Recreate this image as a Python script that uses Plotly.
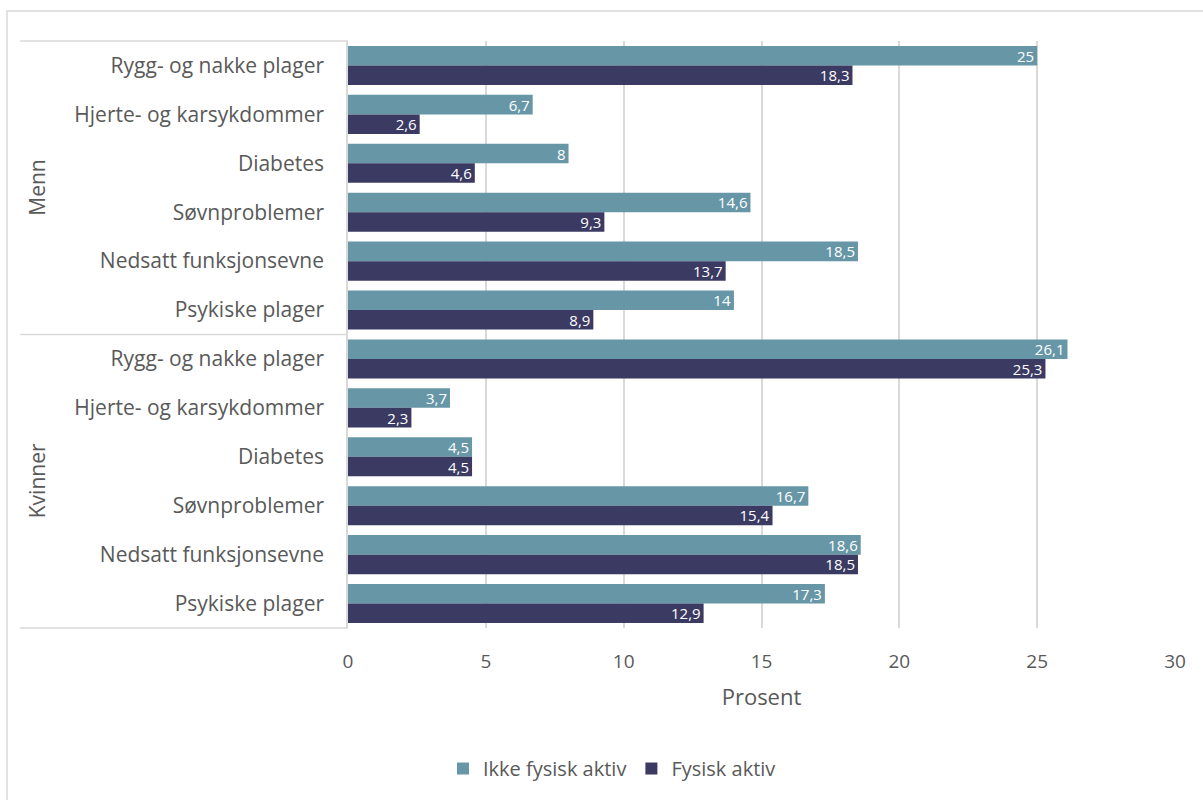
import plotly.graph_objects as go

groups = ["Menn", "Kvinner"]
conditions = ["Rygg- og nakke plager", "Hjerte- og karsykdommer", "Diabetes",
              "Søvnproblemer", "Nedsatt funksjonsevne", "Psykiske plager"]
ikke_menn = [25, 6.7, 8, 14.6, 18.5, 14]
fys_menn = [18.3, 2.6, 4.6, 9.3, 13.7, 8.9]
ikke_kvinner = [26.1, 3.7, 4.5, 16.7, 18.6, 17.3]
fys_kvinner = [25.3, 2.3, 4.5, 15.4, 18.5, 12.9]
x_ticks = [0, 5, 10, 15, 20, 25, 30]

series_names = ["Ikke fysisk aktiv", "Fysisk aktiv"]
colors = ["#6797A7", "#3B3A62"]

labels = conditions + conditions
pos = list(range(len(labels)))
ikke = ikke_menn + ikke_kvinner
fys = fys_menn + fys_kvinner

def fmt(v):
    return f"{v:g}".replace(".", ",")

FONT = "Open Sans"
GRAY = "#595959"
LINE = "#D9D9D9"

fig = go.Figure()
for name, vals, col in zip(series_names, [ikke, fys], colors):
    fig.add_trace(go.Bar(
        name=name, y=pos, x=vals, orientation="h",
        marker=dict(color=col, line=dict(width=0)),
        text=[fmt(v) for v in vals], textposition="inside",
        insidetextanchor="end", textangle=0, constraintext="none",
        textfont=dict(color="white", size=15, family=FONT),
        cliponaxis=False,
    ))

W, H = 1203, 800
L = 348
T = 41
plot_right = 1175
plot_bottom = 630
R = W - plot_right
B = H - plot_bottom
pw, ph = plot_right - L, plot_bottom - T

def px(x):
    return (x - L) / pw

def py(y):
    return (plot_bottom - y) / ph

shapes = []
for yv in [1, 0.5, 0]:
    shapes.append(dict(type="line", xref="paper", yref="paper",
                       x0=px(20), x1=0, y0=yv, y1=yv,
                       line=dict(color=LINE, width=1.5)))
shapes.append(dict(type="rect", xref="paper", yref="paper",
                   x0=px(7), x1=px(1225), y0=py(11), y1=py(825),
                   line=dict(color=LINE, width=1.5), layer="below"))

annotations = []
for g, yv in zip(groups, [0.75, 0.25]):
    annotations.append(dict(text=g, xref="paper", yref="paper",
                            x=px(37), y=yv, textangle=-90, showarrow=False,
                            font=dict(size=21, color=GRAY, family=FONT),
                            xanchor="center", yanchor="middle"))

fig.update_layout(
    width=W, height=H,
    margin=dict(l=L, r=R, t=T, b=B),
    paper_bgcolor="white", plot_bgcolor="white",
    barmode="group", bargap=0.2, bargroupgap=0,
    font=dict(family=FONT, color=GRAY),
    shapes=shapes, annotations=annotations,
    legend=dict(orientation="h", x=px(612), xanchor="center",
                y=py(771), yanchor="middle",
                font=dict(size=20, color=GRAY, family=FONT),
                itemwidth=30, traceorder="normal"),
    xaxis=dict(range=[0, 30], tickvals=x_ticks, ticktext=[str(t) for t in x_ticks],
               showgrid=True, gridcolor=LINE, gridwidth=1.5, zeroline=False,
               showline=False, ticks="", ticklabelstandoff=20,
               tickfont=dict(size=19, color=GRAY, family=FONT),
               title=dict(text="Prosent", standoff=16,
                          font=dict(size=22, color=GRAY, family=FONT))),
    yaxis=dict(tickvals=pos, ticktext=labels, range=[len(labels) - 0.5, -0.5],
               showgrid=False, zeroline=False, showline=True, linecolor=LINE,
               linewidth=1.5, ticks="", ticklabelstandoff=18,
               tickfont=dict(size=21, color=GRAY, family=FONT)),
)

fig.write_html("out.html", config={"displayModeBar": False},
               post_script="document.body.style.margin='0px';document.body.style.overflow='hidden';")
